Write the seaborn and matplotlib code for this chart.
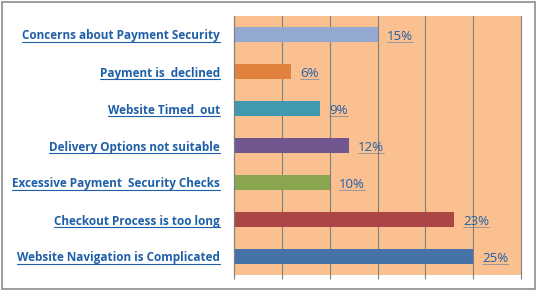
import matplotlib
matplotlib.use("Agg")
import matplotlib.pyplot as plt
from matplotlib.lines import Line2D
from matplotlib.patches import Rectangle
import seaborn as sns
import pandas as pd

categories = [
    "Concerns about Payment Security",
    "Payment is  declined",
    "Website Timed  out",
    "Delivery Options not suitable",
    "Excessive Payment  Security Checks",
    "Checkout Process is too long",
    "Website Navigation is Complicated",
]
values = [15, 6, 9, 12, 10, 23, 25]
value_labels = ["15%", "6%", "9%", "12%", "10%", "23%", "25%"]
bar_colors = ["#93A9D2", "#E0823D", "#4199B0", "#71568F", "#89A54E", "#AA4643", "#4572A7"]

df = pd.DataFrame({"category": categories, "value": values})

sns.set_theme(style="white")
plt.rcParams["font.family"] = ["Open Sans", "DejaVu Sans"]

text_blue = "#1F5FA8"
grid_gray = "#7F7F7F"

fig = plt.figure(figsize=(5.37, 2.91), dpi=100)
ax = fig.add_axes([234 / 537, 16 / 291, 287 / 537, 259 / 291])

sns.barplot(data=df, y="category", x="value", hue="category", palette=bar_colors,
            orient="h", width=0.4, legend=False, ax=ax, saturation=1, linewidth=0)

ax.set_facecolor("#FAC090")
ax.set_xlim(0, 30)
ax.set_xticks(range(0, 31, 5))
ax.set_xticklabels([])
ax.xaxis.grid(True, color=grid_gray, linewidth=0.8)
for gl in ax.get_xgridlines():
    gl.set_clip_on(False)
ax.set_axisbelow(True)
ax.tick_params(axis="x", direction="out", length=3, color=grid_gray, width=0.8, bottom=True)
ax.tick_params(axis="y", length=0, labelsize=8.5, labelcolor=text_blue, pad=10)
for lbl in ax.get_yticklabels():
    lbl.set_fontweight("bold")
ax.set_xlabel("")
ax.set_ylabel("")
for side in ["top", "right"]:
    ax.spines[side].set_visible(False)
ax.spines["left"].set_color(grid_gray)
ax.spines["left"].set_linewidth(0.8)
ax.spines["bottom"].set_visible(False)

value_texts = []
for i, (v, lab) in enumerate(zip(values, value_labels)):
    t = ax.annotate(lab, xy=(v, i), xytext=(6.5, -1.5), textcoords="offset points",
                    ha="left", va="center", fontsize=9.5, color=text_blue, fontweight="medium")
    value_texts.append(t)

# figure border
fig.patches.append(Rectangle((2 / 537, 2 / 291), 533 / 537, 287 / 291, transform=fig.transFigure,
                             fill=False, edgecolor="#8C8C8C", linewidth=1.2))

# underline texts like hyperlinks
fig.canvas.draw()
renderer = fig.canvas.get_renderer()
inv = fig.transFigure.inverted()
for t, lw, a in [(t, 0.8, 1.0) for t in ax.get_yticklabels()] + [(t, 0.6, 0.5) for t in value_texts]:
    bb = t.get_window_extent(renderer)
    (x0, y0), (x1, _) = inv.transform([(bb.x0, bb.y0 + 1), (bb.x1, bb.y0 + 1)])
    fig.lines.append(Line2D([x0, x1], [y0, y0], transform=fig.transFigure,
                            color=text_blue, linewidth=lw, alpha=a))

fig.savefig("out.png", dpi=100)
